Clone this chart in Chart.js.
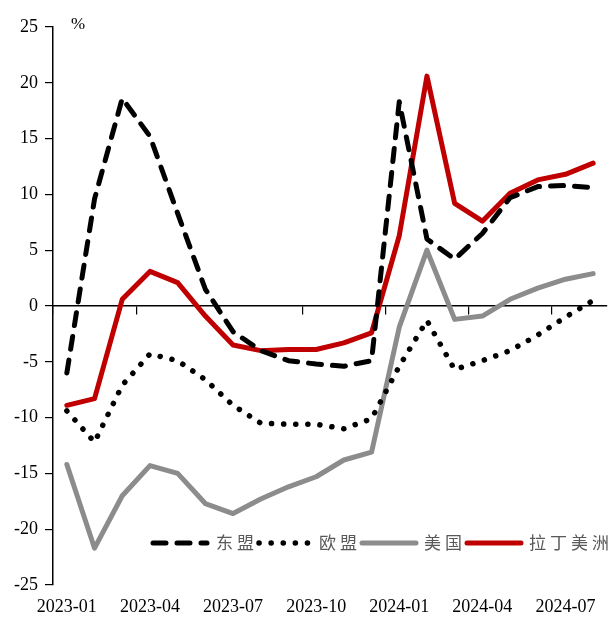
<!DOCTYPE html>
<html>
<head>
<meta charset="utf-8">
<script src="https://cdn.jsdelivr.net/npm/chart.js@4.4.1/dist/chart.umd.min.js"></script>
<style>
  html, body { margin: 0; padding: 0; background: #fff; }
  #grafico { display: block; }
</style>
</head>
<body>
<canvas id="grafico" width="610" height="619"></canvas>
<script>
// datos (%)
const meses = ['2023-01', '2023-02', '2023-03', '2023-04', '2023-05', '2023-06', '2023-07', '2023-08', '2023-09', '2023-10',
               '2023-11', '2023-12', '2024-01', '2024-02', '2024-03', '2024-04', '2024-05', '2024-06', '2024-07', '2024-08'];
const asean = [-6.0, 9.6, 18.6, 15.2, 8.3, 1.5, -2.3, -4.0, -4.9, -5.2, -5.4, -4.9, 18.3, 6.0, 4.2, 6.5, 9.7, 10.7, 10.8, 10.6];
const ue    = [-9.4, -12.2, -7.1, -4.3, -4.9, -6.6, -8.9, -10.5, -10.6, -10.6, -11.0, -10.1, -5.4, -1.3, -5.7, -4.9, -4.0, -2.6, -1.0, 0.5];
const eeuu  = [-14.2, -21.7, -17.0, -14.3, -15.0, -17.7, -18.6, -17.3, -16.2, -15.3, -13.8, -13.1, -1.9, 5.0, -1.2, -0.9, 0.6, 1.6, 2.4, 2.9];
const latam = [-8.9, -8.3, 0.6, 3.1, 2.1, -0.9, -3.5, -4.0, -3.9, -3.9, -3.3, -2.4, 6.3, 20.6, 9.2, 7.6, 10.1, 11.3, 11.8, 12.8];
const marcasY = [-25, -20, -15, -10, -5, 0, 5, 10, 15, 20, 25];

const fuenteNum = { family: '"Liberation Serif", "Times New Roman", serif', size: 18 };

const datasets = [
    { label: '东盟', data: asean, borderColor: '#000000', borderWidth: 5, borderDash: [13, 11], borderCapStyle: 'round', borderJoinStyle: 'round' },
    { label: '欧盟', data: ue, borderColor: '#000000', borderWidth: 5.5, borderDash: [0.1, 12], borderCapStyle: 'round', borderJoinStyle: 'round' },
    { label: '美国', data: eeuu, borderColor: '#8c8c8c', borderWidth: 5, borderCapStyle: 'round', borderJoinStyle: 'round' },
    { label: '拉丁美洲', data: latam, borderColor: '#c00000', borderWidth: 5, borderCapStyle: 'round', borderJoinStyle: 'round' },
];
datasets.forEach(d => { d.pointRadius = 0; d.tension = 0; d.fill = false; });

// leyenda dentro del area del grafico y la etiqueta "%"
const leyenda = {
    id: 'leyenda',
    afterDraw(chart) {
        const ctx = chart.ctx;
        const y = 543;
        const items = [
            { x0: 153, x1: 207, tx: 216 },
            { x0: 259, x1: 308, tx: 319 },
            { x0: 362, x1: 416, tx: 424 },
            { x0: 467, x1: 521, tx: 529 },
        ];
        ctx.save();
        items.forEach((it, i) => {
            const ds = chart.data.datasets[i];
            ctx.beginPath();
            ctx.strokeStyle = ds.borderColor;
            ctx.lineWidth = ds.borderWidth;
            ctx.lineCap = 'round';
            ctx.setLineDash(ds.borderDash || []);
            ctx.moveTo(it.x0, y);
            ctx.lineTo(it.x1, y);
            ctx.stroke();
            ctx.setLineDash([]);
            ctx.fillStyle = '#595959';
            ctx.font = '17px "Noto Sans CJK SC"';
            ctx.textBaseline = 'middle';
            ctx.textAlign = 'left';
            let x = it.tx;
            for (const ch of ds.label) {
                ctx.fillText(ch, x, y);
                x += 21;
            }
        });
        ctx.fillStyle = '#000';
        ctx.font = '17px "Liberation Serif"';
        ctx.textAlign = 'center';
        ctx.fillText('%', chart.chartArea.left + 25, chart.chartArea.top - 2);
        ctx.restore();
    }
};

const config = {
    type: 'line',
    data: { labels: meses, datasets: datasets },
    options: {
        responsive: false,
        animation: false,
        layout: { padding: { top: 27, right: 3, left: 0, bottom: 0 } },
        plugins: { legend: { display: false }, tooltip: { enabled: false } },
        scales: {
            x: {
                type: 'category',
                position: { y: 0 },
                offset: true,
                grid: {
                    offset: true,
                    drawOnChartArea: false,
                    tickLength: 8,
                    lineWidth: 1.2,
                    color: c => (c.index % 3 === 0 ? '#000' : 'rgba(0,0,0,0)'),
                },
                border: { color: '#000', width: 1.5 },
                ticks: { display: false },
            },
            x2: {
                type: 'category',
                labels: meses,
                position: 'bottom',
                offset: true,
                grid: { display: false, drawTicks: false },
                border: { display: false },
                ticks: {
                    autoSkip: false,
                    maxRotation: 0,
                    padding: 11,
                    color: '#000',
                    font: fuenteNum,
                    callback: (v, i) => (i % 3 === 0 ? meses[i] : ''),
                },
                afterFit: s => { s.height = 34; },
            },
            y: {
                min: marcasY[0],
                max: marcasY[marcasY.length - 1],
                afterBuildTicks: s => { s.ticks = marcasY.map(v => ({ value: v })); },
                ticks: { color: '#000', font: fuenteNum, padding: 7 },
                grid: { drawOnChartArea: false, tickLength: 8, color: '#000', lineWidth: 1.2 },
                border: { color: '#000', width: 1.5 },
                afterFit: s => { s.width = 53; },
            },
        },
    },
    plugins: [leyenda],
};

new Chart(document.getElementById('grafico'), config);
</script>
</body>
</html>
